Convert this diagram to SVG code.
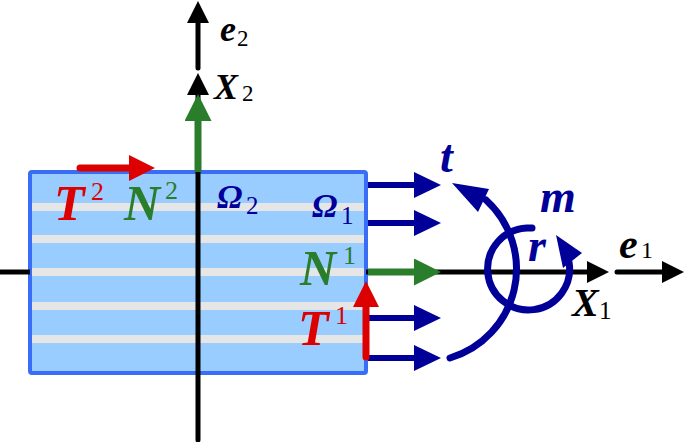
<svg xmlns="http://www.w3.org/2000/svg" width="685" height="442" viewBox="0 0 685 442">
<style>
.lbl{font-family:"Liberation Serif","Times New Roman","DejaVu Serif",serif;font-weight:bold;font-style:italic}
.idx{font-family:"Liberation Serif","Times New Roman","DejaVu Serif",serif;font-weight:normal;font-style:normal}
.blk{fill:#000}
.red{fill:#dd0000}
.grn{fill:#2a7d2a}
.nvy{fill:#000099}
.ax{stroke:#000;stroke-width:5;fill:none}
.ba{stroke:#000099;stroke-width:6;fill:none}
.ga{stroke:#2a7d2a;stroke-width:7;fill:none}
.ra{stroke:#dd0000;stroke-width:7;fill:none;stroke-linecap:round}
.mo{stroke:#000099;stroke-width:7;fill:none;stroke-linecap:round}
.stripe{fill:#e6e6e6}
</style>
<defs>
<marker id="hBlk" markerUnits="userSpaceOnUse" markerWidth="22" markerHeight="22" viewBox="0 0 22 22" refX="0" refY="11" orient="auto"><path d="M0,0 L22,11 L0,22 z" fill="#000"/></marker>
<marker id="hBlu" markerUnits="userSpaceOnUse" markerWidth="27" markerHeight="26" viewBox="0 0 27 26" refX="0" refY="13" orient="auto"><path d="M0,0 L27,13 L0,26 z" fill="#000099"/></marker>
<marker id="hGrn" markerUnits="userSpaceOnUse" markerWidth="27" markerHeight="27" viewBox="0 0 27 27" refX="0" refY="13.5" orient="auto"><path d="M0,0 L27,13.5 L0,27 z" fill="#2a7d2a"/></marker>
<marker id="hRed" markerUnits="userSpaceOnUse" markerWidth="26" markerHeight="26" viewBox="0 0 26 26" refX="0" refY="13" orient="auto"><path d="M0,0 L26,13 L0,26 z" fill="#dd0000"/></marker>
</defs>

<g id="body">
<rect x="30" y="172" width="336" height="201" fill="#99ccff"/>
<rect class="stripe" x="32" y="203" width="332" height="8"/>
<rect class="stripe" x="32" y="235" width="332" height="8"/>
<rect class="stripe" x="32" y="268" width="332" height="8"/>
<rect class="stripe" x="32" y="302" width="332" height="8"/>
<rect class="stripe" x="32" y="335" width="332" height="8"/>
<rect x="30" y="172" width="336" height="201" rx="2" fill="none" stroke="#3a6df5" stroke-width="4"/>
</g>

<g id="connectors">
<line class="ax" x1="198" y1="440" x2="198" y2="95" marker-end="url(#hBlk)" stroke-linecap="round"/>
<line class="ax" x1="198" y1="68" x2="198" y2="23" marker-end="url(#hBlk)" stroke-linecap="round"/>
<line class="ax" x1="0" y1="272" x2="30" y2="272"/>
<line class="ax" x1="366" y1="272" x2="587" y2="272" marker-end="url(#hBlk)"/>
<line class="ax" x1="617" y1="272" x2="662" y2="272" marker-end="url(#hBlk)" stroke-linecap="round"/>
<line class="ga" x1="198" y1="172" x2="198" y2="121" marker-end="url(#hGrn)"/>
<line class="ga" x1="368" y1="272" x2="414" y2="272" marker-end="url(#hGrn)"/>
<line class="ba" x1="368" y1="185" x2="414" y2="185" marker-end="url(#hBlu)"/>
<line class="ba" x1="368" y1="223" x2="414" y2="223" marker-end="url(#hBlu)"/>
<line class="ba" x1="368" y1="318" x2="414" y2="318" marker-end="url(#hBlu)"/>
<line class="ba" x1="368" y1="358" x2="414" y2="358" marker-end="url(#hBlu)"/>
<line class="ra" x1="80" y1="168" x2="129" y2="168" marker-end="url(#hRed)"/>
<line class="ra" x1="366" y1="357" x2="366" y2="307" marker-end="url(#hRed)"/>
<path class="mo" d="M450,358 A93,93 0 0 0 486,200"/>
<polygon points="452,183 489,189 478,212" fill="#000099"/>
<path class="mo" d="M532,228 L527,228 A41,41 0 1 0 569,262"/>
<polygon points="556,235 563,268 582,253" fill="#000099"/>
</g>

<g id="labels">
<text class="lbl blk" x="220" y="41" font-size="36">e</text>
<text class="idx blk" x="237" y="46" font-size="23">2</text>
<text class="lbl blk" x="214" y="99" font-size="36">X</text>
<text class="idx blk" x="242" y="101" font-size="23">2</text>

<text class="lbl red" x="54" y="220" font-size="50">T</text>
<text class="idx red" x="91" y="200" font-size="26">2</text>
<text class="lbl grn" x="124" y="220" font-size="50">N</text>
<text class="idx grn" x="165" y="199" font-size="26">2</text>

<text class="lbl nvy" x="217" y="208" font-size="34">Ω</text>
<text class="idx nvy" x="246" y="214" font-size="25">2</text>
<text class="lbl nvy" x="312" y="217" font-size="34">Ω</text>
<text class="idx nvy" x="341" y="224" font-size="25">1</text>

<text class="lbl grn" x="300" y="285" font-size="50">N</text>
<text class="idx grn" x="343" y="264" font-size="26">1</text>
<text class="lbl red" x="298" y="345" font-size="50">T</text>
<text class="idx red" x="335" y="324" font-size="26">1</text>

<text class="lbl nvy" x="440" y="172" font-size="46">t</text>
<text class="lbl nvy" x="540" y="212" font-size="46">m</text>
<text class="lbl nvy" x="528" y="261" font-size="46">r</text>

<text class="lbl blk" x="619" y="258" font-size="42">e</text>
<text class="idx blk" x="641" y="258" font-size="24">1</text>
<text class="lbl blk" x="572" y="316" font-size="40">X</text>
<text class="idx blk" x="599" y="319" font-size="25">1</text>
</g>
</svg>
